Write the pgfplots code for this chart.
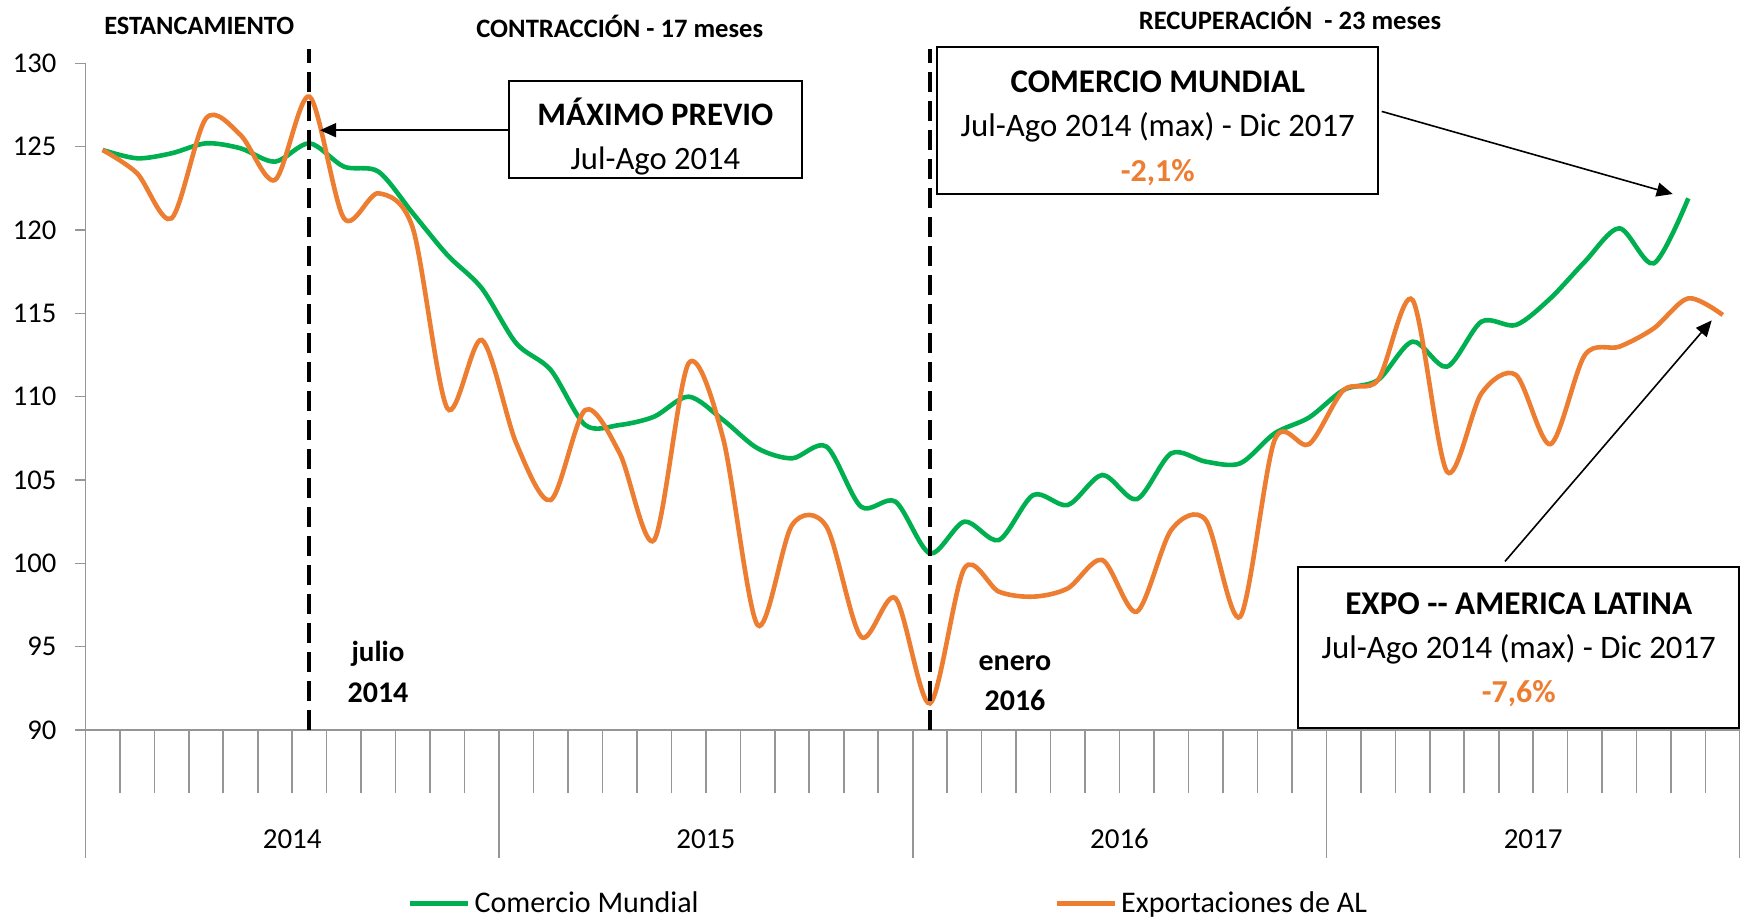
\documentclass[border=0pt]{standalone}
\usepackage{fontspec}
\setmainfont{Carlito}
\usepackage{pgfplots}
\usepackage{pgfplotstable}
\pgfplotsset{compat=1.18}
\usetikzlibrary{arrows.meta}
\definecolor{cmgreen}{RGB}{0,176,80}
\definecolor{alorange}{RGB}{237,125,49}
\definecolor{axgray}{RGB}{150,150,150}

\pgfplotstableread{
i v
0 124.8
1 124.3
2 124.6
3 125.2
4 124.9
5 124.1
6 125.2
7 123.8
8 123.5
9 121.0
10 118.5
11 116.5
12 113.2
13 111.6
14 108.3
15 108.3
16 108.8
17 110.0
18 108.6
19 106.9
20 106.3
21 107.0
22 103.4
23 103.7
24 100.6
25 102.5
26 101.4
27 104.1
28 103.5
29 105.3
30 103.85
31 106.6
32 106.1
33 106.0
34 107.8
35 108.75
36 110.4
37 111.0
38 113.3
39 111.8
40 114.5
41 114.3
42 115.9
43 118.1
44 120.1
45 118.0
46 121.9
}\cmdata

\pgfplotstableread{
i v
0 124.8
1 123.4
2 120.7
3 126.7
4 125.7
5 123.0
6 128.0
7 120.7
8 122.2
9 120.1
10 109.3
11 113.4
12 107.2
13 103.8
14 109.2
15 106.6
16 101.4
17 112.0
18 107.5
19 96.3
20 102.3
21 102.2
22 95.6
23 97.9
24 91.6
25 99.7
26 98.3
27 98.0
28 98.5
29 100.2
30 97.1
31 102.0
32 102.6
33 96.8
34 107.4
35 107.15
36 110.4
37 111.0
38 115.8
39 105.5
40 110.2
41 111.3
42 107.15
43 112.5
44 113.0
45 114.1
46 115.9
47 114.9
}\aldata

\begin{document}
\begin{tikzpicture}
\path[use as bounding box] (0pt,0pt) rectangle (870pt,459pt);
\begin{axis}[
  at={(42.7pt,94pt)}, anchor=south west,
  scale only axis, width=827.3pt, height=333.35pt,
  xmin=-0.5, xmax=47.5, ymin=90, ymax=130,
  clip=false,
  axis x line*=bottom, axis y line*=left,
  axis line style={draw=axgray, line width=0.8pt, -},
  xtick=\empty,
  ytick={90,95,...,130},
  tick align=outside, major tick length=5pt,
  tick style={draw=axgray, line width=0.8pt},
  yticklabel style={font=\fontsize{14.3}{16}\selectfont, /pgf/number format/assume math mode=true, xshift=-6pt},
  legend style={at={(0.486,-0.26)}, anchor=center, draw=none, fill=none,
    font=\fontsize{15}{16}\selectfont, legend columns=2,
    /tikz/every even column/.append style={column sep=176pt}},
  legend image code/.code={\draw[#1] (0pt,0pt) -- (29pt,0pt);},
]
\addplot[cmgreen, line width=2.3pt, smooth, tension=0.5] table[x=i, y=v] {\cmdata};
\addlegendentry{Comercio Mundial}
\addplot[alorange, line width=2.3pt, smooth, tension=0.5] table[x=i, y=v] {\aldata};
\addlegendentry{Exportaciones de AL}

\draw[line width=2pt, dash pattern=on 10pt off 4.5pt] (axis cs:6,90) -- (axis cs:6,130.85);
\draw[line width=2pt, dash pattern=on 10pt off 4.5pt] (axis cs:24,90) -- (axis cs:24,130.85);

\pgfplotsinvokeforeach{0,...,46}{
  \draw[axgray, line width=0.8pt] (axis cs:{#1+0.5},90) -- ++(0pt,-31.5pt);
}
\foreach \xx in {-0.5,11.5,23.5,35.5,47.5}{
  \edef\tmp{\noexpand\draw[axgray, line width=0.8pt] (axis cs:\xx,90) -- ++(0pt,-64pt);}\tmp
}
\foreach \xx/\yy in {5.5/2014,17.5/2015,29.5/2016,41.5/2017}{
  \edef\tmp{\noexpand\node[font=\noexpand\fontsize{14.5}{16}\noexpand\selectfont, anchor=base] at (axis cs:\xx,90) [yshift=-59.3pt] {\yy};}\tmp
}
\end{axis}

\begin{scope}[shift={(0pt,459pt)}, x=0.5pt, y=-0.5pt]
% top labels
\node[anchor=base, font=\fontsize{13.2}{15}\selectfont\bfseries] at (199.2,35) {ESTANCAMIENTO};
\node[anchor=base, font=\fontsize{13.3}{15}\selectfont\bfseries] at (619.8,37.3) {CONTRACCIÓN - 17 meses};
\node[anchor=base, font=\fontsize{13.3}{15}\selectfont\bfseries] at (1290,29.3) {RECUPERACIÓN \ - 23 meses};
% julio / enero
\node[anchor=base, font=\fontsize{14.5}{16}\selectfont\bfseries] at (378,661) {julio};
\node[anchor=base, font=\fontsize{15}{16}\selectfont\bfseries] at (378,702) {2014};
\node[anchor=base, font=\fontsize{15}{16}\selectfont\bfseries] at (1015,670) {enero};
\node[anchor=base, font=\fontsize{15}{16}\selectfont\bfseries] at (1015,710) {2016};
% MAXIMO PREVIO box
\draw[line width=1pt, fill=white] (509,81) rectangle (801.7,178.4);
\node[anchor=base, font=\fontsize{16.4}{18}\selectfont\bfseries] at (655.4,125.5) {MÁXIMO PREVIO};
\node[anchor=base, font=\fontsize{16.3}{18}\selectfont] at (655.4,170) {Jul-Ago 2014};
\draw[line width=0.8pt, -{Triangle[length=8pt,width=7pt]}] (509,130.2) -- (320,130.2);
% COMERCIO MUNDIAL box
\draw[line width=1pt, fill=white] (937.3,46.7) rectangle (1378.3,194);
\node[anchor=base, font=\fontsize{16.5}{18}\selectfont\bfseries] at (1157.8,93) {COMERCIO MUNDIAL};
\node[anchor=base, font=\fontsize{16.4}{18}\selectfont] at (1157.8,137) {Jul-Ago 2014 (max) - Dic 2017};
\node[anchor=base, font=\fontsize{16}{18}\selectfont\bfseries, text=alorange] at (1157.8,182) {-2,1\%};
\draw[line width=0.8pt, -{Triangle[length=8pt,width=7pt]}] (1381.7,111.4) -- (1672.7,194);
% EXPO box
\draw[line width=1pt, fill=white] (1298,566.8) rectangle (1739.3,727.5);
\node[anchor=base, font=\fontsize{16.6}{18}\selectfont\bfseries] at (1518.7,614) {EXPO -{}- AMERICA LATINA};
\node[anchor=base, font=\fontsize{16.4}{18}\selectfont] at (1518.7,658) {Jul-Ago 2014 (max) - Dic 2017};
\node[anchor=base, font=\fontsize{16}{18}\selectfont\bfseries, text=alorange] at (1518.7,702) {-7,6\%};
\draw[line width=0.8pt, -{Triangle[length=8pt,width=7pt]}] (1505,561.4) -- (1711.7,320.4);
\end{scope}
\end{tikzpicture}
\end{document}
